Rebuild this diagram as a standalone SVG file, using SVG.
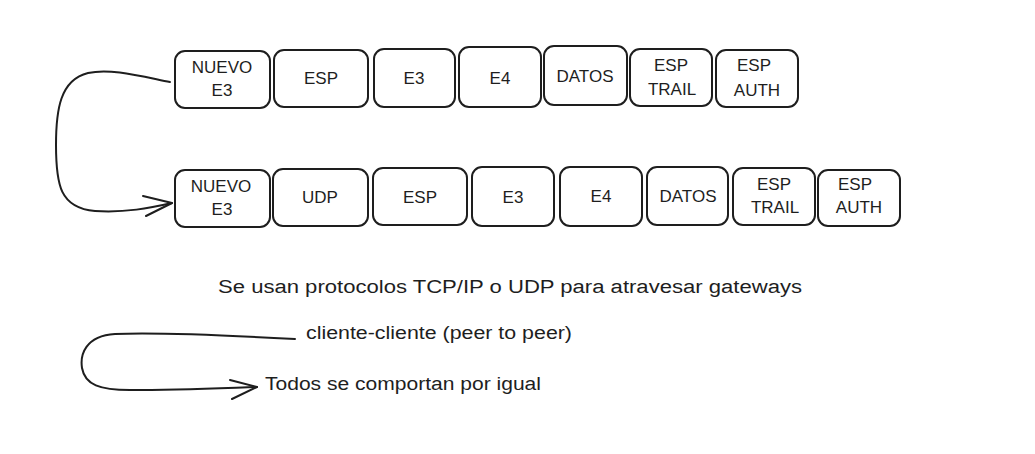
<svg xmlns="http://www.w3.org/2000/svg" width="1035" height="454" viewBox="0 0 1035 454">
<style>
.box{fill:none;stroke:#1e1e1e;stroke-width:2;}
.lbl{font-family:"Liberation Sans",Arial,sans-serif;font-size:17px;fill:#1e1e1e;text-anchor:middle;}
.txt{font-family:"Liberation Sans",Arial,sans-serif;font-size:18px;fill:#1e1e1e;}
.conn{fill:none;stroke:#1e1e1e;stroke-width:2;stroke-linecap:round;stroke-linejoin:round;}
</style>
<rect width="1035" height="454" fill="#ffffff"/>
<g id="top-row">
<g id="t1"><rect class="box" x="175" y="51" width="95" height="57" rx="10"/><text class="lbl" x="222" y="73">NUEVO</text><text class="lbl" x="222" y="96">E3</text></g>
<g id="t2"><rect class="box" x="274" y="50" width="94" height="57" rx="10"/><text class="lbl" x="321" y="84">ESP</text></g>
<g id="t3"><rect class="box" x="374" y="49" width="81" height="58" rx="10"/><text class="lbl" x="414" y="84">E3</text></g>
<g id="t4"><rect class="box" x="459" y="47" width="82" height="60" rx="10"/><text class="lbl" x="500" y="84">E4</text></g>
<g id="t5"><rect class="box" x="544" y="46" width="83" height="59" rx="10"/><text class="lbl" x="585" y="82">DATOS</text></g>
<g id="t6"><rect class="box" x="630" y="49" width="82" height="57" rx="10"/><text class="lbl" x="671" y="71">ESP</text><text class="lbl" x="672" y="95">TRAIL</text></g>
<g id="t7"><rect class="box" x="716" y="50" width="82" height="57" rx="10"/><text class="lbl" x="754" y="71">ESP</text><text class="lbl" x="757" y="96">AUTH</text></g>
</g>
<g id="bottom-row">
<g id="b1"><rect class="box" x="175" y="170" width="95" height="57" rx="10"/><text class="lbl" x="221" y="192">NUEVO</text><text class="lbl" x="222" y="215">E3</text></g>
<g id="b2"><rect class="box" x="273" y="169" width="95" height="57" rx="10"/><text class="lbl" x="320" y="203">UDP</text></g>
<g id="b3"><rect class="box" x="373" y="168" width="94" height="57" rx="10"/><text class="lbl" x="420" y="203">ESP</text></g>
<g id="b4"><rect class="box" x="472" y="167" width="82" height="59" rx="10"/><text class="lbl" x="513" y="203">E3</text></g>
<g id="b5"><rect class="box" x="560" y="167" width="82" height="59" rx="10"/><text class="lbl" x="601" y="202">E4</text></g>
<g id="b6"><rect class="box" x="647" y="167" width="81" height="58" rx="10"/><text class="lbl" x="688" y="202">DATOS</text></g>
<g id="b7"><rect class="box" x="733" y="168" width="82" height="57" rx="10"/><text class="lbl" x="774" y="190">ESP</text><text class="lbl" x="775" y="213">TRAIL</text></g>
<g id="b8"><rect class="box" x="818" y="170" width="82" height="56" rx="10"/><text class="lbl" x="855" y="190">ESP</text><text class="lbl" x="859" y="213">AUTH</text></g>
</g>
<g id="texts">
<text class="txt" x="218" y="293" textLength="584" lengthAdjust="spacingAndGlyphs">Se usan protocolos TCP/IP o UDP para atravesar gateways</text>
<text class="txt" x="306" y="339" textLength="266" lengthAdjust="spacingAndGlyphs">cliente-cliente (peer to peer)</text>
<text class="txt" x="265" y="390" textLength="276" lengthAdjust="spacingAndGlyphs">Todos se comportan por igual</text>
</g>
<g id="connectors">
<path class="conn" d="M170,82 C140,76 110,68 88,73 C60,80 56,110 56,145 C56,185 60,208 95,211 C125,213 150,208 172,203"/>
<path class="conn" d="M143,196 L172,203 L146,216"/>
<path class="conn" d="M295,339 C240,336 160,332 115,334 C85,336 80,355 82,368 C85,385 100,390 130,390 C180,390 225,388 257,387"/>
<path class="conn" d="M230,380 L257,387 L232,399"/>
</g>
</svg>
